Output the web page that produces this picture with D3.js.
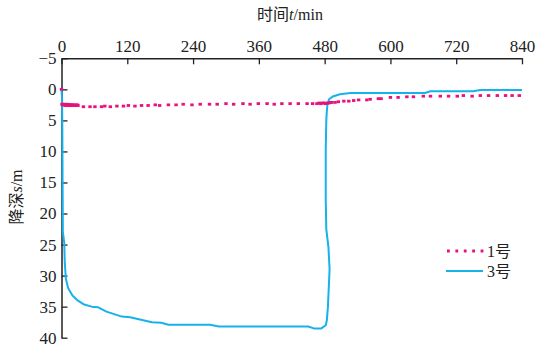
<!DOCTYPE html>
<html>
<head>
<meta charset="utf-8">
<script src="https://cdn.jsdelivr.net/npm/d3@7"></script>
<style>
  html, body { margin: 0; padding: 0; background: #fff; }
  svg text { font-family: "Liberation Serif", "Noto Sans CJK SC", serif; fill: #222; }
</style>
</head>
<body>
<div id="chart"></div>
<script>
/* 降深-时间曲线，1号 与 3号 */
const xTicks = [0, 120, 240, 360, 480, 600, 720, 840];
const yTicks = [-5, 0, 5, 10, 15, 20, 25, 30, 35, 40];

// 1号: [时间 min, 降深 m]
const well1 = [
  [0,0],[1,2.4],[2,2.5],[3,2.4],[4,2.5],[5,2.5],[6,2.4],[7,2.5],[8,2.6],[9,2.5],[10,2.5],
  [11,2.4],[12,2.5],[13,2.6],[14,2.5],[15,2.5],[16,2.6],[17,2.5],[18,2.5],[19,2.6],[20,2.5],
  [21,2.6],[22,2.6],[23,2.5],[24,2.6],[25,2.6],[26,2.5],[27,2.6],[28,2.6],[29,2.5],[30,2.6],
  [40,2.8],[52,2.8],[61,2.8],[73,2.8],[79,2.7],[89,2.8],[101,2.7],[113,2.7],[122,2.6],[134,2.7],
  [146,2.6],[158,2.6],[171,2.5],[179,2.6],[195,2.5],[209,2.5],[222,2.4],[238,2.5],[253,2.4],
  [270,2.4],[284,2.4],[300,2.3],[314,2.4],[331,2.3],[344,2.4],[359,2.3],[375,2.3],[388,2.4],
  [402,2.3],[417,2.3],[432,2.3],[448,2.3],[458,2.3],[466,2.3],[470,2.2],[473,2.3],[476,2.2],
  [479,2.2],[482,2.3],[485,2.2],[488,2.2],[491,2.1],[493,2.1],[499,2.1],[505,2.0],[515,1.9],
  [524,1.9],[533,1.8],[542,1.7],[557,1.7],[563,1.6],[578,1.5],[583,1.5],[600,1.3],[614,1.3],
  [630,1.2],[642,1.2],[660,1.1],[673,1.1],[691,1.1],[706,1.1],[722,1.1],[733,1.0],[749,1.1],
  [764,1.0],[779,1.0],[795,1.0],[810,1.0],[822,1.0],[835,1.0]
];

// 3号
const well3 = [
  [0,0],[1,1.5],[1.5,6],[2,15],[2.5,23],[5,24.7],[6,28],[8,30.5],[12,32],[20,33.2],[28,33.9],
  [40,34.6],[55,35.0],[67,35.1],[82,35.8],[110,36.6],[125,36.7],[165,37.5],[182,37.6],[195,37.9],
  [271,37.9],[287,38.2],[450,38.2],[460,38.5],[474,38.5],[482,38.0],[484,37.2],[486,35],[488,31],
  [489,29],[487,25.5],[483,22.5],[482,17.7],[482,9.7],[483,5],[484,3.5],[485,2.5],[488,1.6],
  [496,1.1],[508,0.8],[527,0.6],[663,0.6],[673,0.3],[751,0.3],[764,0.1],[840,0.1]
];

const legendItems = ['1号', '3号'];
const PINK = '#e8117f', BLUE = '#17b1ec';

const W = 536, H = 349;
const svg = d3.select('#chart').append('svg').attr('width', W).attr('height', H);

const x = d3.scaleLinear().domain([0, 840]).range([61.5, 522]);
const y = d3.scaleLinear().domain([-5, 40]).range([58.3, 337.7]);

/* --- axes --- */
const gx = svg.append('g').attr('transform', `translate(0,${y(-5)})`)
  .call(d3.axisTop(x).tickValues(xTicks).tickSizeInner(-6).tickSizeOuter(0).tickPadding(6));
const gy = svg.append('g').attr('transform', `translate(${x(0)},0)`)
  .call(d3.axisLeft(y).tickValues(yTicks).tickSizeInner(-6).tickSizeOuter(0).tickPadding(5));
[gx, gy].forEach(g => {
  g.select('.domain').attr('stroke', '#222').attr('stroke-width', 1.5);
  g.selectAll('.tick line').attr('stroke', '#222').attr('stroke-width', 1.3);
  g.selectAll('.tick text').style('font-size', '17px').attr('fill', '#222');
});

/* --- titles --- */
const xt = svg.append('text').attr('x', 290).attr('y', 20).attr('text-anchor', 'middle').style('font-size', '16px');
xt.append('tspan').text('时间');
xt.append('tspan').style('font-style', 'italic').text('t');
xt.append('tspan').text('/min');

const yt = svg.append('text').attr('transform', 'translate(22,197) rotate(-90)').attr('text-anchor', 'middle').style('font-size', '16px');
yt.append('tspan').text('降深');
yt.append('tspan').style('font-style', 'italic').text('s');
yt.append('tspan').text('/m');

/* --- series --- */
const line = d3.line().x(d => x(d[0])).y(d => y(d[1]));
svg.append('path').datum(well3).attr('d', line)
  .attr('fill', 'none').attr('stroke', BLUE).attr('stroke-width', 2).attr('stroke-linejoin', 'round');

svg.append('g').selectAll('rect').data(well1).join('rect')
  .attr('x', d => x(d[0]) - 1.7).attr('y', d => y(d[1]) - 1.4)
  .attr('width', 3.4).attr('height', 2.8).attr('fill', PINK);

/* --- legend --- */
const lg = svg.append('g');
lg.append('line').attr('x1', 447).attr('x2', 484).attr('y1', 251).attr('y2', 251)
  .attr('stroke', PINK).attr('stroke-width', 2.8).attr('stroke-dasharray', '2.8 5.6');
lg.append('line').attr('x1', 446).attr('x2', 483).attr('y1', 271).attr('y2', 271)
  .attr('stroke', BLUE).attr('stroke-width', 2);
legendItems.forEach((t, i) => {
  lg.append('text').attr('x', 487).attr('y', 257 + i * 20).style('font-size', '16px').text(t);
});
</script>
</body>
</html>
